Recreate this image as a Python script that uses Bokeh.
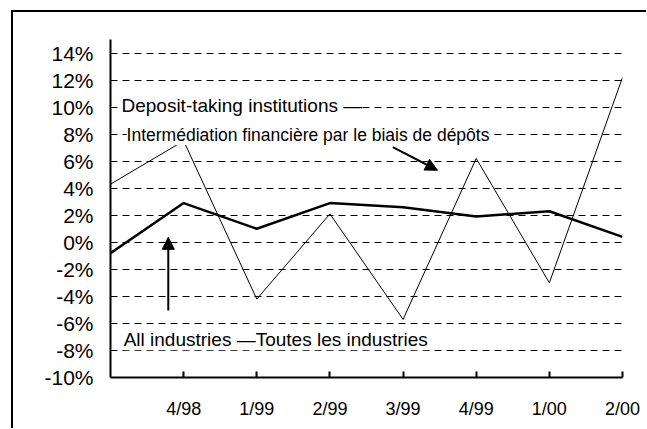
from bokeh.plotting import figure
from bokeh.models import (Range1d, FixedTicker, Label, Arrow, NormalHead)
from bokeh.embed import file_html
from bokeh.resources import INLINE

# ---- data ----
positions = [0, 1, 2, 3, 4, 5, 6, 7]
deposit_taking = [4.3, 7.5, -4.2, 2.1, -5.7, 6.2, -3.0, 12.2]
all_industries = [-0.8, 2.9, 1.0, 2.9, 2.6, 1.9, 2.3, 0.4]
x_tick_positions = [1, 2, 3, 4, 5, 6, 7]
x_tick_labels = ["4/98", "1/99", "2/99", "3/99", "4/99", "1/00", "2/00"]
y_ticks = [-10, -8, -6, -4, -2, 0, 2, 4, 6, 8, 10, 12, 14]
y_tick_labels = ["-10%", "-8%", "-6%", "-4%", "-2%", "0%", "2%", "4%", "6%", "8%", "10%", "12%", "14%"]

FONT = "Liberation Sans"
W, H = 646, 428
BL, BR, BT, BB = 110, 24, 39, 51
X0, X1, Y0, Y1 = 0, 7, -10, 15

# outer frame: left and top edges painted behind a transparent border area
frame_bg = ("linear-gradient(#000, #000) 11px 10px / 2px 100% no-repeat, "
            "linear-gradient(#000, #000) 11px 10px / 100% 2px no-repeat, #fff")

p = figure(width=W, height=H, output_backend="svg", toolbar_location=None,
           x_range=Range1d(X0, X1), y_range=Range1d(Y0, Y1),
           min_border_left=BL, min_border_right=BR, min_border_top=BT, min_border_bottom=BB,
           styles={"background": frame_bg})
p.outline_line_color = None
p.background_fill_color = "white"
p.border_fill_color = None

# axes
p.xaxis.ticker = FixedTicker(ticks=x_tick_positions)
p.xaxis.major_label_overrides = {t: l for t, l in zip(x_tick_positions, x_tick_labels)}
p.xaxis.major_tick_in = 6
p.xaxis.major_tick_out = 0
p.xaxis.major_tick_line_width = 2
p.xaxis.minor_tick_line_color = None
p.xaxis.axis_line_width = 2
p.xaxis.major_label_standoff = 21
p.xaxis.major_label_text_font = FONT
p.xaxis.major_label_text_font_size = "18px"
p.xaxis.major_label_text_color = "black"

p.yaxis.ticker = FixedTicker(ticks=y_ticks)
p.yaxis.major_label_overrides = {t: l for t, l in zip(y_ticks, y_tick_labels)}
p.yaxis.major_tick_in = 0
p.yaxis.major_tick_out = 0
p.yaxis.minor_tick_line_color = None
p.yaxis.axis_line_width = 2
p.yaxis.major_label_standoff = 17
p.yaxis.major_label_text_font = FONT
p.yaxis.major_label_text_font_size = "21px"
p.yaxis.major_label_text_color = "black"

p.xgrid.grid_line_color = None
p.ygrid.grid_line_color = "black"
p.ygrid.grid_line_dash = "7 5"
p.ygrid.grid_line_width = 1

# series
p.line(positions, deposit_taking, line_color="black", line_width=1)
p.line(positions, all_industries, line_color="black", line_width=2.5)

# annotations
lab_kw = dict(text_font=FONT, text_color="black",
              text_baseline="middle", background_fill_color="white")
p.add_layout(Label(x=0.15, y=10.15, text="Deposit-taking institutions —",
                   text_font_size="19px", **lab_kw))
p.add_layout(Label(x=0.22, y=7.93, text="Intermédiation financière par le biais de dépôts",
                   text_font_size="17.5px", **lab_kw))
p.add_layout(Label(x=0.18, y=-7.2, text="All industries —Toutes les industries",
                   text_font_size="19px", **lab_kw))

p.add_layout(Arrow(end=NormalHead(size=12, fill_color="black", line_color="black"),
                   x_start=3.86, y_start=7.04, x_end=4.47, y_end=5.33,
                   line_color="black", line_width=2))
p.add_layout(Arrow(end=NormalHead(size=12, fill_color="black", line_color="black"),
                   x_start=0.79, y_start=-5.04, x_end=0.79, y_end=0.37,
                   line_color="black", line_width=2))

open("out.html", "w").write(file_html(p, INLINE))
